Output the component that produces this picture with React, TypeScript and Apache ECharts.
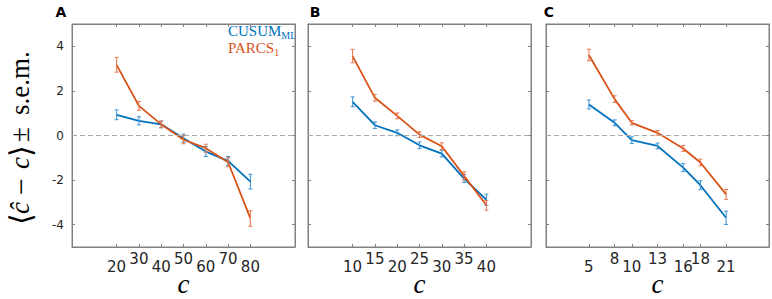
import React, { useEffect, useRef } from "react";
import * as echarts from "echarts";

// Panel A
const A_x = [20, 30, 40, 50, 60, 70, 80];
const A_cusum = [0.93, 0.66, 0.5, -0.12, -0.72, -1.14, -2.07];
const A_cusumErr = [0.22, 0.18, 0.15, 0.18, 0.22, 0.2, 0.33];
const A_parcs = [3.17, 1.33, 0.5, -0.19, -0.57, -1.2, -3.72];
const A_parcsErr = [0.33, 0.2, 0.15, 0.18, 0.18, 0.2, 0.35];
const A_low = [20, 40, 60, 80];
const A_high = [30, 50, 70];

// Panel B
const B_x = [10, 15, 20, 25, 30, 35, 40];
const B_cusum = [1.51, 0.46, 0.12, -0.44, -0.81, -1.93, -2.88];
const B_cusumErr = [0.22, 0.15, 0.13, 0.15, 0.15, 0.18, 0.25];
const B_parcs = [3.56, 1.69, 0.88, 0.04, -0.48, -1.81, -3.13];
const B_parcsErr = [0.3, 0.15, 0.13, 0.13, 0.15, 0.18, 0.22];
const B_low = [10, 20, 30, 40];
const B_high = [15, 25, 35];

// Panel C
const C_x = [5, 8, 10, 13, 16, 18, 21];
const C_cusum = [1.39, 0.57, -0.21, -0.47, -1.44, -2.23, -3.69];
const C_cusumErr = [0.2, 0.13, 0.15, 0.13, 0.18, 0.2, 0.3];
const C_parcs = [3.61, 1.63, 0.57, 0.12, -0.58, -1.21, -2.64];
const C_parcsErr = [0.26, 0.15, 0.1, 0.1, 0.13, 0.15, 0.22];
const C_low = [5, 10, 16, 21];
const C_high = [8, 13, 18];

const Y_TICKS = [-4, -2, 0, 2, 4];

// y-axis title pieces
const Y_TITLE_PIECES = [
  { t: "⟨", italic: false, size: 30 },
  { t: "ĉ", italic: true, size: 27 },
  { t: "−", italic: false, size: 30 },
  { t: "c", italic: true, size: 27 },
  { t: "⟩", italic: false, size: 30 },
  { t: "±", italic: false, size: 27 },
  { t: "s.e.m.", italic: false, size: 27 },
];
const Y_TITLE_STARTS = [225, 214, 195, 169, 157, 142, 115];

const BLUE = "#0072BD";
const ORANGE = "#D95319";
const BLUE_ERR = "#3a93d6";
const ORANGE_ERR = "#e8764a";
const AXIS_GRAY = "#808080";

const panels = [
  { x: A_x, cusum: A_cusum, cusumErr: A_cusumErr, parcs: A_parcs, parcsErr: A_parcsErr, low: A_low, high: A_high, max: 100, left: 72, label: "A", labelX: 61 },
  { x: B_x, cusum: B_cusum, cusumErr: B_cusumErr, parcs: B_parcs, parcsErr: B_parcsErr, low: B_low, high: B_high, max: 50, left: 308, label: "B", labelX: 315 },
  { x: C_x, cusum: C_cusum, cusumErr: C_cusumErr, parcs: C_parcs, parcsErr: C_parcsErr, low: C_low, high: C_high, max: 26, left: 546, label: "C", labelX: 549 },
];

const GRID_TOP = 24;
const GRID_SIZE = 223;
const X_PER_GRID = 3;

function errorBarSeries(gridIdx: number, xs: number[], ys: number[], es: number[], color: string, z: number) {
  return {
    type: "custom",
    xAxisIndex: gridIdx * X_PER_GRID,
    yAxisIndex: gridIdx * 2,
    z,
    data: xs.map((x, i) => [x, ys[i], es[i]]),
    renderItem: (params: any, api: any) => {
      const x = api.value(0);
      const y = api.value(1);
      const e = api.value(2);
      const top = api.coord([x, y + e]);
      const bot = api.coord([x, y - e]);
      const cw = 2;
      const style = { stroke: color, lineWidth: 1 };
      return {
        type: "group",
        children: [
          { type: "line", shape: { x1: top[0], y1: top[1], x2: bot[0], y2: bot[1] }, style },
          { type: "line", shape: { x1: top[0] - cw, y1: top[1], x2: top[0] + cw, y2: top[1] }, style },
          { type: "line", shape: { x1: bot[0] - cw, y1: bot[1], x2: bot[0] + cw, y2: bot[1] }, style },
        ],
      };
    },
  };
}

export default function App() {
  const ref = useRef<HTMLDivElement>(null);

  useEffect(() => {
    document.body.style.margin = "0";
    if (!ref.current) return;
    const chart = echarts.init(ref.current, undefined, { renderer: "svg" });

    const grid: any[] = [];
    const xAxis: any[] = [];
    const yAxis: any[] = [];
    const series: any[] = [];
    const graphic: any[] = [];

    panels.forEach((p, i) => {
      grid.push({
        left: p.left,
        top: GRID_TOP,
        width: GRID_SIZE,
        height: GRID_SIZE,
        show: true,
        borderColor: AXIS_GRAY,
        borderWidth: 1,
        backgroundColor: "transparent",
      });
      const tickStyle = { color: AXIS_GRAY };
      xAxis.push({
        type: "value",
        gridIndex: i,
        min: 0,
        max: p.max,
        position: "bottom",
        axisLine: { show: true, onZero: false, lineStyle: { color: AXIS_GRAY } },
        axisTick: { show: true, inside: true, length: 3, customValues: p.x, lineStyle: tickStyle },
        axisLabel: {
          show: true,
          customValues: p.low,
          margin: 12,
          fontFamily: "DejaVu Sans",
          fontSize: 15,
          color: "#262626",
        },
        splitLine: { show: false },
      });
      xAxis.push({
        type: "value",
        gridIndex: i,
        min: 0,
        max: p.max,
        position: "bottom",
        axisLine: { show: false },
        axisTick: { show: false },
        axisLabel: {
          show: true,
          customValues: p.high,
          margin: 4,
          fontFamily: "DejaVu Sans",
          fontSize: 15,
          color: "#262626",
        },
        splitLine: { show: false },
      });
      xAxis.push({
        type: "value",
        gridIndex: i,
        min: 0,
        max: p.max,
        position: "top",
        axisLine: { show: true, onZero: false, lineStyle: { color: AXIS_GRAY } },
        axisTick: { show: true, inside: true, length: 3, customValues: p.x, lineStyle: tickStyle },
        axisLabel: { show: false },
        splitLine: { show: false },
      });
      yAxis.push({
        type: "value",
        gridIndex: i,
        min: -5,
        max: 5,
        position: "left",
        axisLine: { show: true, onZero: false, lineStyle: { color: AXIS_GRAY } },
        axisTick: { show: true, inside: true, length: 3, customValues: Y_TICKS, lineStyle: tickStyle },
        axisLabel: {
          show: i === 0,
          customValues: Y_TICKS,
          margin: 8,
          fontFamily: "DejaVu Sans",
          fontSize: 12,
          color: "#262626",
        },
        splitLine: { show: false },
      });
      yAxis.push({
        type: "value",
        gridIndex: i,
        min: -5,
        max: 5,
        position: "right",
        axisLine: { show: true, onZero: false, lineStyle: { color: AXIS_GRAY } },
        axisTick: { show: true, inside: true, length: 3, customValues: Y_TICKS, lineStyle: tickStyle },
        axisLabel: { show: false },
        splitLine: { show: false },
      });

      series.push({
        type: "line",
        xAxisIndex: i * X_PER_GRID,
        yAxisIndex: i * 2,
        data: p.x.map((x, k) => [x, p.cusum[k]]),
        showSymbol: false,
        symbol: "none",
        lineStyle: { color: BLUE, width: 1.8 },
        itemStyle: { color: BLUE },
        z: 2,
        markLine: {
          silent: true,
          symbol: "none",
          label: { show: false },
          lineStyle: { color: "#a8a8a8", type: [5, 3], width: 1 },
          data: [{ yAxis: 0 }],
        },
      });
      series.push(errorBarSeries(i, p.x, p.cusum, p.cusumErr, BLUE_ERR, 3));
      series.push({
        type: "line",
        xAxisIndex: i * X_PER_GRID,
        yAxisIndex: i * 2,
        data: p.x.map((x, k) => [x, p.parcs[k]]),
        showSymbol: false,
        symbol: "none",
        lineStyle: { color: ORANGE, width: 1.8 },
        itemStyle: { color: ORANGE },
        z: 4,
      });
      series.push(errorBarSeries(i, p.x, p.parcs, p.parcsErr, ORANGE_ERR, 5));

      graphic.push({
        type: "text",
        x: p.labelX,
        y: 12,
        style: {
          text: p.label,
          fontFamily: "DejaVu Sans",
          fontWeight: "bold",
          fontSize: 14,
          fill: "#000",
          align: "center",
          verticalAlign: "middle",
        },
      });
      graphic.push({
        type: "text",
        x: p.left + GRID_SIZE / 2,
        y: 284,
        style: {
          text: "c",
          fontFamily: "Liberation Serif",
          fontStyle: "italic",
          fontSize: 27,
          lineHeight: 22,
          fill: "#000",
          align: "center",
          verticalAlign: "middle",
        },
      });
    });

    graphic.push({
      type: "text",
      x: 228,
      y: 31,
      style: {
        text: "{m|CUSUM}{s|ML}",
        rich: {
          m: { fontFamily: "Liberation Serif", fontSize: 15, fill: BLUE, verticalAlign: "bottom" },
          s: { fontFamily: "Liberation Serif", fontSize: 10, fill: BLUE, verticalAlign: "bottom", padding: [0, 0, -2, 0] },
        },
        verticalAlign: "middle",
      },
    });
    graphic.push({
      type: "text",
      x: 228,
      y: 48,
      style: {
        text: "{m|PARCS}{s|1}",
        rich: {
          m: { fontFamily: "Liberation Serif", fontSize: 15, fill: ORANGE, verticalAlign: "bottom" },
          s: { fontFamily: "Liberation Serif", fontSize: 10, fill: ORANGE, verticalAlign: "bottom", padding: [0, 0, -2, 0] },
        },
        verticalAlign: "middle",
      },
    });

    Y_TITLE_PIECES.forEach((piece, k) => {
      graphic.push({
        type: "text",
        x: 20,
        y: Y_TITLE_STARTS[k],
        rotation: Math.PI / 2,
        style: {
          text: piece.t,
          fontFamily: "Liberation Serif",
          fontStyle: piece.italic ? "italic" : "normal",
          fontSize: piece.size,
          fill: "#000",
          align: "left",
          verticalAlign: "middle",
        },
      });
    });

    chart.setOption({
      animation: false,
      grid,
      xAxis,
      yAxis,
      series,
      graphic,
    });

    return () => chart.dispose();
  }, []);

  return <div ref={ref} style={{ width: 772, height: 299 }} />;
}
